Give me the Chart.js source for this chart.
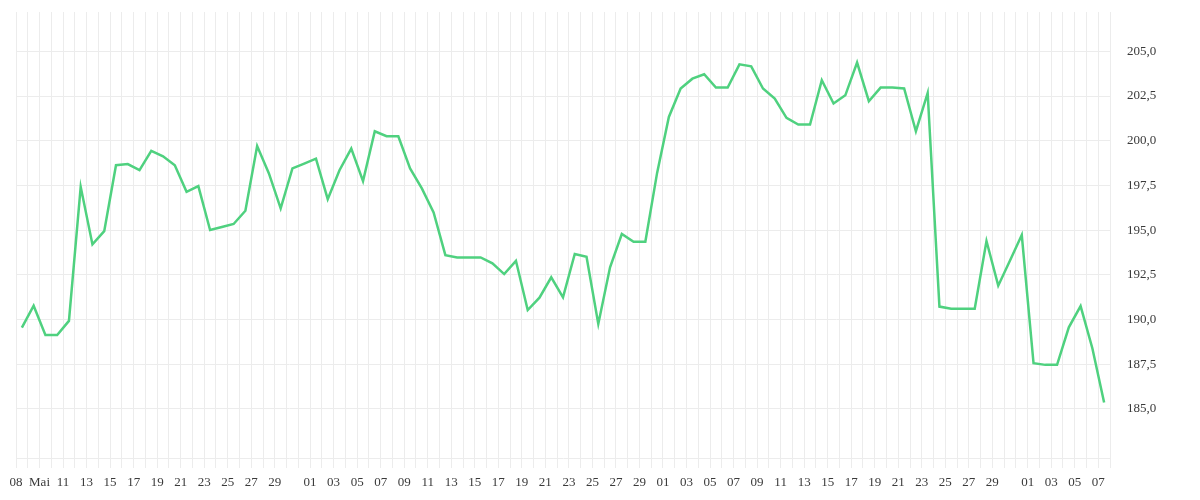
<!DOCTYPE html>
<html lang="de">
<head>
    <meta charset="UTF-8">
    <title>Kursverlauf</title>
    <style>
        body { margin: 0; padding: 0; background: #fff; }
        #wrap { width: 1200px; height: 500px; position: relative; }
    </style>
</head>
<body>
    <div id="wrap"><canvas id="kurs"></canvas></div>
    <script src="https://cdn.jsdelivr.net/npm/chart.js"></script>
    <script>
    // Tage (Mai 07 bis Aug 07), ein Wert pro Tag
    const tageMai = ['05-07','05-08','05-09','05-10','05-11','05-12','05-13','05-14','05-15','05-16','05-17','05-18','05-19','05-20','05-21','05-22','05-23','05-24','05-25','05-26','05-27','05-28','05-29','05-30','05-31'];
    const tageJun = ['06-01','06-02','06-03','06-04','06-05','06-06','06-07','06-08','06-09','06-10','06-11','06-12','06-13','06-14','06-15','06-16','06-17','06-18','06-19','06-20','06-21','06-22','06-23','06-24','06-25','06-26','06-27','06-28','06-29','06-30'];
    const tageJul = ['07-01','07-02','07-03','07-04','07-05','07-06','07-07','07-08','07-09','07-10','07-11','07-12','07-13','07-14','07-15','07-16','07-17','07-18','07-19','07-20','07-21','07-22','07-23','07-24','07-25','07-26','07-27','07-28','07-29','07-30','07-31'];
    const tageAug = ['08-01','08-02','08-03','08-04','08-05','08-06','08-07'];
    const tage = tageMai.concat(tageJun, tageJul, tageAug);

    const kurse = [
        189.54, 190.77, 189.13, 189.13, 189.92, 197.42, 194.2, 194.94, 198.63, 198.69,
        198.35, 199.43, 199.13, 198.63, 197.14, 197.46, 195.0, 195.17, 195.34, 196.08,
        199.7, 198.17, 196.21, 198.45, 198.72, 199.0, 196.73, 198.35, 199.56, 197.74,
        200.53, 200.25, 200.25, 198.45, 197.33, 195.99, 193.6, 193.47, 193.47, 193.47,
        193.14, 192.54, 193.28, 190.53, 191.22, 192.36, 191.24, 193.66, 193.51, 189.75,
        192.92, 194.78, 194.35, 194.35, 198.2, 201.33, 202.92, 203.47, 203.72, 202.97,
        202.97, 204.27, 204.16, 202.92, 202.36, 201.28, 200.9, 200.9, 203.38, 202.08,
        202.54, 204.37, 202.21, 202.97, 202.97, 202.92, 200.53, 202.67, 190.72, 190.6,
        190.6, 190.6, 194.39, 191.89, 193.3, 194.72, 187.55, 187.46, 187.46, 189.56,
        190.75, 188.39, 185.35
    ];

    // Beschriftete Tage auf der x-Achse
    const tickTage = ['05-07','05-09','05-11','05-13','05-15','05-17','05-19','05-21','05-23','05-25','05-27','05-29',
        '06-01','06-03','06-05','06-07','06-09','06-11','06-13','06-15','06-17','06-19','06-21','06-23','06-25','06-27','06-29',
        '07-01','07-03','07-05','07-07','07-09','07-11','07-13','07-15','07-17','07-19','07-21','07-23','07-25','07-27','07-29',
        '08-01','08-03','08-05','08-07'];
    const tickTexte = ['08','Mai','11','13','15','17','19','21','23','25','27','29',
        '01','03','05','07','09','11','13','15','17','19','21','23','25','27','29',
        '01','03','05','07','09','11','13','15','17','19','21','23','25','27','29',
        '01','03','05','07'];

    // y-Achse
    const yTicks = [185, 187.5, 190, 192.5, 195, 197.5, 200, 202.5, 205];
    const yMin = 182.25;
    const yMax = 207.2;

    const gitter = '#ececec';
    const schrift = { family: 'Liberation Serif', size: 13 };

    new Chart(document.getElementById('kurs'), {
        type: 'line',
        data: {
            labels: tage,
            datasets: [{
                data: kurse,
                borderColor: '#4fd17f',
                borderWidth: 2.5,
                pointRadius: 0,
                tension: 0,
                fill: false
            }]
        },
        options: {
            responsive: true,
            maintainAspectRatio: false,
            animation: false,
            layout: { padding: { left: 16, top: 12, right: 0, bottom: 0 } },
            plugins: { legend: { display: false }, tooltip: { enabled: false } },
            scales: {
                x: {
                    type: 'category',
                    offset: true,
                    grid: { color: gitter, offset: true, drawTicks: true, tickLength: 10 },
                    border: { display: true, color: gitter },
                    ticks: {
                        autoSkip: false,
                        maxRotation: 0,
                        color: '#3a3a3a',
                        font: schrift,
                        padding: 7,
                        labelOffset: -5.88,
                        callback: function(value, index) {
                            const pos = tickTage.indexOf(tage[index]);
                            return pos >= 0 ? tickTexte[pos] : '';
                        }
                    },
                    afterFit: function(scale) { scale.height = 42; }
                },
                y: {
                    position: 'right',
                    min: yMin,
                    max: yMax,
                    grid: { color: gitter, drawTicks: true, tickLength: 14, tickColor: 'rgba(0,0,0,0)' },
                    border: { display: true, color: gitter },
                    afterBuildTicks: function(scale) {
                        scale.ticks = yTicks.map(v => ({ value: v }));
                    },
                    ticks: {
                        color: '#3a3a3a',
                        font: schrift,
                        padding: 3,
                        callback: v => v.toFixed(1).replace('.', ',')
                    },
                    afterFit: function(scale) { scale.width = 90; }
                }
            }
        }
    });
    </script>
</body>
</html>
